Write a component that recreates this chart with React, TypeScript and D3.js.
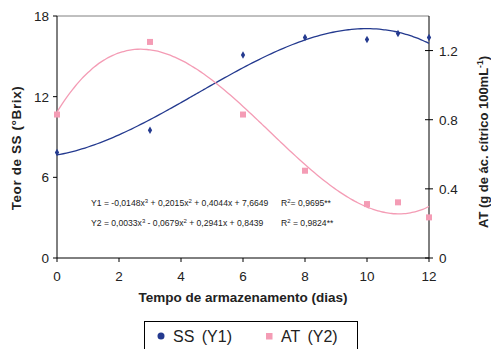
import React from "react";
import * as d3 from "d3";

const days = [0, 3, 6, 8, 10, 11, 12];
const ssValues = [7.85, 9.5, 15.1, 16.4, 16.25, 16.7, 16.4];
const atValues = [0.83, 1.25, 0.83, 0.505, 0.312, 0.322, 0.235];
const y1Coef = [-0.0148, 0.2015, 0.4044, 7.6649];
const y2Coef = [0.0033, -0.0679, 0.2941, 0.8439];
const xTicks = [0, 2, 4, 6, 8, 10, 12];
const leftTicks = [0, 6, 12, 18];
const rightTicks = [0, 0.4, 0.8, 1.2];

const W = 491, H = 349;
const m = { left: 57, right: 429, top: 16, bottom: 258 };
const BLUE = "#243a8f";
const PINK = "#f49cb5";
const FONT = "'Liberation Sans', Arial, sans-serif";

const poly = (c: number[], x: number) => c[0] * x ** 3 + c[1] * x ** 2 + c[2] * x + c[3];

export default function App() {
  const x = d3.scaleLinear().domain([0, 12]).range([m.left, m.right]);
  const yL = d3.scaleLinear().domain([0, 18]).range([m.bottom, m.top]);
  const yR = d3.scaleLinear().domain([0, 1.4]).range([m.bottom, m.top]);
  const xs = d3.range(0, 12.001, 0.1);
  const line1 = d3.line<number>().x((d) => x(d)).y((d) => yL(poly(y1Coef, d))).curve(d3.curveMonotoneX)(xs) || "";
  const line2 = d3.line<number>().x((d) => x(d)).y((d) => yR(poly(y2Coef, d))).curve(d3.curveMonotoneX)(xs) || "";
  const diamond = d3.symbol().type(d3.symbolDiamond).size(16)() || "";

  return (
    <svg width={W} height={H} style={{ position: "absolute", left: 0, top: 0 }} fontFamily={FONT}>
      <rect width={W} height={H} fill="white" />
      <line x1={m.left} x2={m.right} y1={m.top} y2={m.top} stroke="#808080" strokeWidth={1} />
      <line x1={m.left} x2={m.left} y1={m.top} y2={m.bottom} stroke="#000" />
      <line x1={m.right} x2={m.right} y1={m.top} y2={m.bottom} stroke="#000" />
      <line x1={m.left} x2={m.right} y1={m.bottom} y2={m.bottom} stroke="#000" />
      {xTicks.map((t) => (
        <g key={"x" + t}>
          <line x1={x(t)} x2={x(t)} y1={m.bottom} y2={m.bottom + 4} stroke="#000" />
          <text x={x(t)} y={m.bottom + 23} textAnchor="middle" fontSize={13.5} fill="#222">{t}</text>
        </g>
      ))}
      {leftTicks.map((t) => (
        <g key={"l" + t}>
          <line x1={m.left - 4} x2={m.left} y1={yL(t)} y2={yL(t)} stroke="#000" />
          <text x={m.left - 8} y={yL(t) + 5} textAnchor="end" fontSize={13.5} fill="#222">{t}</text>
        </g>
      ))}
      {rightTicks.map((t) => (
        <g key={"r" + t}>
          <line x1={m.right - 4} x2={m.right + 4} y1={yR(t)} y2={yR(t)} stroke="#000" />
          <text x={m.right + 10} y={yR(t) + 5} textAnchor="start" fontSize={13.5} fill="#222">{t}</text>
        </g>
      ))}
      <path d={line1} fill="none" stroke={BLUE} strokeWidth={1.3} />
      <path d={line2} fill="none" stroke={PINK} strokeWidth={1.3} />
      {days.map((d, i) => (
        <path key={"s" + i} d={diamond} transform={`translate(${x(d)},${yL(ssValues[i])})`} fill={BLUE} />
      ))}
      {days.map((d, i) => (
        <rect key={"a" + i} x={x(d) - 3} y={yR(atValues[i]) - 3} width={6} height={6} fill={PINK} />
      ))}
      <text x={91} y={206} fontSize={8.6} fill="#222">
        Y1 = -0,0148x<tspan dy={-3.5} fontSize={6}>3</tspan><tspan dy={3.5}> + 0,2015x</tspan><tspan dy={-3.5} fontSize={6}>2</tspan><tspan dy={3.5}> + 0,4044x + 7,6649</tspan>
      </text>
      <text x={281} y={206} fontSize={8.6} fill="#222">
        R<tspan dy={-3.5} fontSize={6}>2</tspan><tspan dy={3.5}>= 0,9695**</tspan>
      </text>
      <text x={91} y={226} fontSize={8.6} fill="#222">
        Y2 = 0,0033x<tspan dy={-3.5} fontSize={6}>3</tspan><tspan dy={3.5}> - 0,0679x</tspan><tspan dy={-3.5} fontSize={6}>2</tspan><tspan dy={3.5}> + 0,2941x + 0,8439</tspan>
      </text>
      <text x={281} y={226} fontSize={8.6} fill="#222">
        R<tspan dy={-3.5} fontSize={6}>2</tspan><tspan dy={3.5}> = 0,9824**</tspan>
      </text>
      <text x={243} y={302} textAnchor="middle" fontSize={13.5} fontWeight="bold" fill="#222">Tempo de armazenamento (dias)</text>
      <text transform={`translate(21,148) rotate(-90)`} textAnchor="middle" fontSize={13.5} fontWeight="bold" fill="#222" letterSpacing={0.6}>Teor de SS (°Brix)</text>
      <text transform={`translate(488,142) rotate(-90)`} textAnchor="middle" fontSize={13} fontWeight="bold" fill="#222">
        AT (g de ác. cítrico 100mL<tspan dy={-5} fontSize={8.5}>-1</tspan><tspan dy={5}>)</tspan>
      </text>
      <rect x={144.5} y={321.5} width={213} height={40} fill="white" stroke="#000" />
      <circle cx={161} cy={336} r={3.5} fill={BLUE} />
      <text x={173} y={342} fontSize={16} fill="#222" wordSpacing={3}>SS (Y1)</text>
      <rect x={266} y={333} width={6.5} height={6.5} fill={PINK} />
      <text x={281} y={342} fontSize={16} fill="#222" wordSpacing={3}>AT (Y2)</text>
    </svg>
  );
}
